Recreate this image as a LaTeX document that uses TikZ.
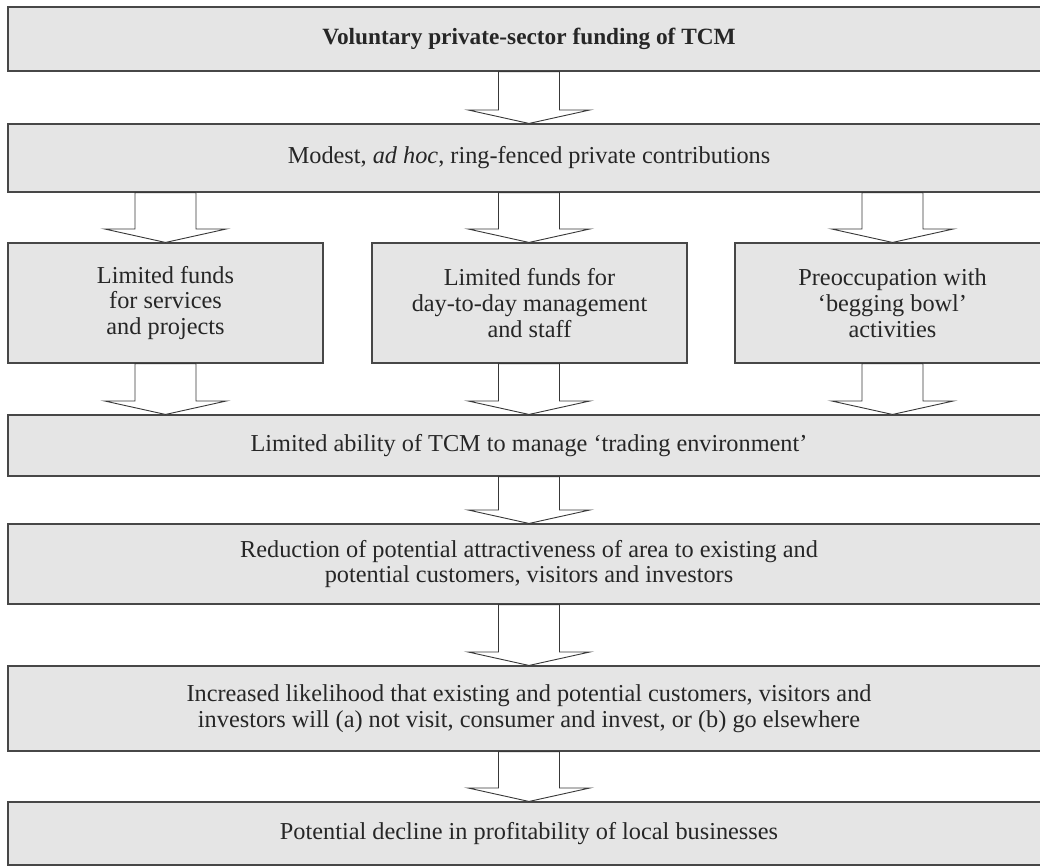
\documentclass[tikz,border=0pt]{standalone}
\usepackage{fontspec}
\setmainfont{Liberation Serif}
\usetikzlibrary{calc}
\tikzset{
  box/.style={draw=black!72, line width=1.1pt, fill=black!10, inner sep=0pt,
    align=center, text=black!85, font=\fontsize{24.3}{25.7}\selectfont},
  titlebox/.style={box, font=\fontsize{23.3}{25.7}\selectfont\bfseries},
  fatarr/.style={draw=black!78, line width=0.9pt, fill=white, line join=miter},
}
\newcommand{\fatarrow}[3]{%
  \draw[fatarr] let \p1=(#1.south), \p2=(#2.north) in
   (#3-30.5,\y1) -- (#3-30.5,\y2+13.5pt) -- (#3-61,\y2+13.5pt) -- (#3,\y2)
   -- (#3+61,\y2+13.5pt) -- (#3+30.5,\y2+13.5pt) -- (#3+30.5,\y1) -- cycle;}
\begin{document}
\begin{tikzpicture}[x=1pt,y=-1pt]
\useasboundingbox (0,0) rectangle (1040,867);
\clip (0,0) rectangle (1040,867);
\node[titlebox, minimum width=1042pt, minimum height=64pt] (b1) at (529,39)
  {Voluntary private-sector funding of TCM};
\node[box, minimum width=1042pt, minimum height=68pt] (b2) at (529,158)
  {Modest, \textit{ad hoc}, ring-fenced private contributions};
\node[box, minimum width=315pt, minimum height=120pt] (l) at (165.5,303)
  {Limited funds\\for services\\and projects};
\node[box, minimum width=315pt, minimum height=120pt] (m) at (529.5,303)
  {Limited funds for\\day-to-day management\\and staff};
\node[box, minimum width=315pt, minimum height=120pt] (r) at (892.5,303)
  {Preoccupation with\\‘begging bowl’\\activities};
\node[box, minimum width=1042pt, minimum height=61pt] (b4) at (529,445.5)
  {Limited ability of TCM to manage ‘trading environment’};
\node[box, minimum width=1042pt, minimum height=80pt] (b5) at (529,564)
  {Reduction of potential attractiveness of area to existing and\\potential customers, visitors and investors};
\node[box, minimum width=1042pt, minimum height=85pt] (b6) at (529,708.5)
  {Increased likelihood that existing and potential customers, visitors and\\investors will (a) not visit, consumer and invest, or (b) go elsewhere};
\node[box, minimum width=1042pt, minimum height=63pt] (b7) at (529,833.5)
  {Potential decline in profitability of local businesses};
\fatarrow{b1}{b2}{529}
\fatarrow{b2}{l}{165.5}
\fatarrow{b2}{m}{529}
\fatarrow{b2}{r}{892.5}
\fatarrow{l}{b4}{165.5}
\fatarrow{m}{b4}{529}
\fatarrow{r}{b4}{892.5}
\fatarrow{b4}{b5}{529}
\fatarrow{b5}{b6}{529}
\fatarrow{b6}{b7}{529}
\end{tikzpicture}
\end{document}
